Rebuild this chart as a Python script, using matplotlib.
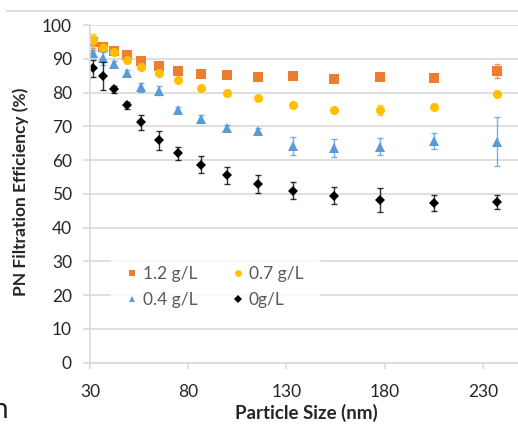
import matplotlib
matplotlib.use("Agg")
import matplotlib.pyplot as plt
from matplotlib.lines import Line2D

plt.rcParams["font.family"] = ["Lato", "DejaVu Sans"]

# particle size bins (nm) and filtration efficiency (%) per ash loading
size_nm = [31.6, 36.5, 42.2, 48.7, 56.2, 64.9, 75.0, 86.6, 100.0, 115.5,
           133.4, 154.0, 177.8, 205.4, 237.1]

eff_12 = [95.0, 93.6, 92.4, 91.0, 89.4, 87.9, 86.4, 85.6, 85.2, 84.7,
          84.9, 84.0, 84.6, 84.4, 86.4]
err_12 = [1.8, 1.0, 0.8, 0.8, 0.8, 0.7, 0.7, 0.6, 0.6, 0.6,
          0.6, 0.6, 0.7, 0.6, 2.0]

eff_07 = [95.5, 93.3, 92.1, 89.6, 87.7, 85.9, 83.7, 81.3, 79.8, 78.5,
          76.3, 74.8, 74.8, 75.8, 79.5]
err_07 = [1.8, 1.0, 0.8, 0.8, 0.8, 0.8, 0.7, 0.7, 0.6, 0.6,
          0.8, 0.7, 1.5, 0.8, 0.8]

eff_04 = [91.6, 90.1, 88.4, 85.9, 81.5, 80.5, 74.8, 72.2, 69.5, 68.7,
          64.2, 63.5, 64.0, 65.7, 65.5]
err_04 = [1.0, 2.0, 0.8, 0.8, 1.2, 1.3, 0.8, 1.2, 0.8, 0.8,
          2.7, 2.7, 2.5, 2.4, 7.2]

eff_00 = [87.2, 84.9, 81.0, 76.2, 71.2, 65.9, 62.0, 58.6, 55.5, 53.0,
          50.9, 49.4, 48.2, 47.2, 47.6]
err_00 = [2.5, 4.0, 1.0, 1.0, 2.2, 2.8, 1.9, 2.5, 2.5, 2.7,
          2.5, 2.5, 3.5, 2.4, 2.2]

labels = ["1.2 g/L", "0.7 g/L", "0.4 g/L", "0g/L"]
x_ticks = [30, 80, 130, 180, 230]
y_ticks = list(range(0, 101, 10))

series = [
    (eff_12, err_12, "s", "#ED7D31", 6.5),
    (eff_07, err_07, "o", "#FFC000", 6.5),
    (eff_04, err_04, "^", "#5B9BD5", 6.5),
    (eff_00, err_00, "D", "#000000", 5.5),
]

W, H = 518, 428
fig = plt.figure(figsize=(W / 100, H / 100), dpi=100)

# plot area in pixels: x=30 at 90px, 50 nm per ~98px; y=0 at 362.7px, y=100 at 25px
left_px, right_px = 90, 581
bottom_px, top_px = 362.7, 25
ax = fig.add_axes([left_px / W, 1 - bottom_px / H,
                   (right_px - left_px) / W, (bottom_px - top_px) / H])
ax.set_xlim(30, 280)
ax.set_ylim(0, 100)

grid_c = "#D9D9D9"
ax.set_yticks(y_ticks)
ax.set_xticks(x_ticks)
ax.yaxis.grid(True, color=grid_c, linewidth=1.2)
ax.set_axisbelow(True)
for side in ["top", "right"]:
    ax.spines[side].set_visible(False)
for side in ["left", "bottom"]:
    ax.spines[side].set_color(grid_c)
    ax.spines[side].set_linewidth(1.2)
ax.tick_params(axis="y", length=5, width=1.2, color=grid_c, pad=8,
               labelsize=12.5, labelcolor="#262626")
ax.tick_params(axis="x", length=4, width=1.2, color=grid_c, pad=11,
               labelsize=12.5, labelcolor="#262626")

handles = []
for (vals, errs, mk, col, ms), lab in zip(series, labels):
    ax.errorbar(size_nm, vals, yerr=errs, fmt="none", ecolor=col,
                elinewidth=1.0, capsize=2.5, capthick=1.0, alpha=0.8)
    ax.plot(size_nm, vals, linestyle="none", marker=mk, color=col,
            markersize=ms, markeredgewidth=0)
    handles.append(Line2D([], [], linestyle="none", marker=mk, color=col,
                          markersize=ms * 0.75, markeredgewidth=0, label=lab))

# legend fills column by column, so order entries for two rows
leg_order = [0, 2, 1, 3]
leg = fig.legend(handles=[handles[i] for i in leg_order], ncol=2, loc="center",
                 bbox_to_anchor=(215 / W, 1 - 287 / H),
                 frameon=True, fancybox=False, fontsize=12.5,
                 handlelength=0.6, handletextpad=0.35, columnspacing=2.0,
                 labelspacing=0.6, borderpad=0.9)
leg.get_frame().set_facecolor("white")
leg.get_frame().set_edgecolor("white")
for t in leg.get_texts():
    t.set_color("#595959")

ax.set_xlabel("Particle Size (nm)", fontsize=13.5, fontweight="bold",
              color="#262626", va="center")
ax.xaxis.set_label_coords((306 - left_px) / (right_px - left_px),
                          (bottom_px - 413) / (bottom_px - top_px))
ax.set_ylabel("PN Filtration Efficiency (%)", fontsize=12.5,
              fontweight="bold", color="#262626", va="center")
ax.yaxis.set_label_coords((21 - left_px) / (right_px - left_px),
                          (bottom_px - 192) / (bottom_px - top_px))

# frame line along the top of the chart area and a clipped page letter
fig.add_artist(Line2D([7 / W, 1], [1 - 11 / H, 1 - 11 / H],
                      color=grid_c, linewidth=1.2))
fig.text(9 / W, 1 - 410 / H, "n", fontsize=20, color="#222222",
         ha="right", va="center")

fig.savefig("out.png", dpi=100)
